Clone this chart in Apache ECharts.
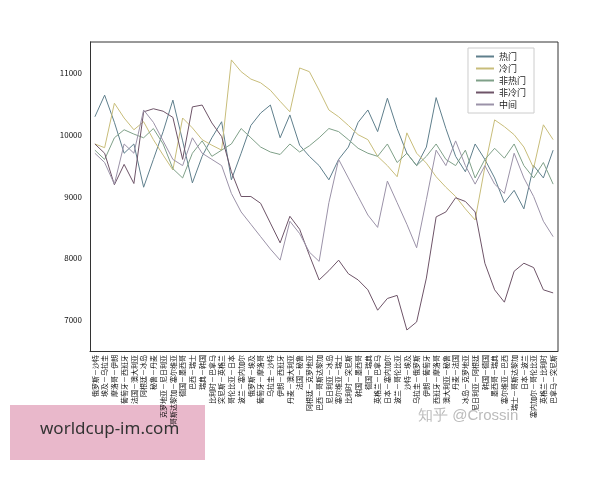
<!DOCTYPE html>
<html>
<head>
<meta charset="utf-8">
<script src="https://cdn.jsdelivr.net/npm/echarts@6/dist/echarts.min.js"></script>
<style>html,body{margin:0;padding:0;background:#fff}#chart{width:600px;height:480px}</style>
</head>
<body>
<div id="chart"></div>
<script>
const matches = ['俄罗斯－沙特','埃及－乌拉圭','摩洛哥－伊朗','葡萄牙－西班牙','法国－澳大利亚','阿根廷－冰岛','秘鲁－丹麦','克罗地亚－尼日利亚','哥斯达黎加－塞尔维亚','德国－墨西哥','巴西－瑞士','瑞典－韩国','比利时－巴拿马','突尼斯－英格兰','哥伦比亚－日本','波兰－塞内加尔','俄罗斯－埃及','葡萄牙－摩洛哥','乌拉圭－沙特','伊朗－西班牙','丹麦－澳大利亚','法国－秘鲁','阿根廷－克罗地亚','巴西－哥斯达黎加','尼日利亚－冰岛','塞尔维亚－瑞士','比利时－突尼斯','韩国－墨西哥','德国－瑞典','英格兰－巴拿马','日本－塞内加尔','波兰－哥伦比亚','沙特－埃及','乌拉圭－俄罗斯','伊朗－葡萄牙','西班牙－摩洛哥','澳大利亚－秘鲁','丹麦－法国','冰岛－克罗地亚','尼日利亚－阿根廷','韩国－德国','墨西哥－瑞典','塞尔维亚－巴西','瑞士－哥斯达黎加','日本－波兰','塞内加尔－哥伦比亚','英格兰－比利时','巴拿马－突尼斯'];

const hot = [10290,10640,10200,9700,9850,9150,9600,10050,10560,9900,9220,9650,9950,10210,9270,9700,10150,10350,10480,9950,10320,9830,9650,9500,9270,9600,9800,10200,10400,10050,10590,10100,9700,9500,9800,10600,10100,9650,9400,9850,9600,9300,8900,9100,8800,9500,9300,9750];
const cold = [9850,9790,10510,10270,10080,10210,9920,9670,9430,10270,10110,9920,9830,9750,11210,11020,10900,10840,10720,10540,10370,11080,11020,10720,10400,10290,10150,10000,9920,9650,9500,9320,10030,9700,9540,9320,9150,9000,8800,8620,9480,10240,10130,10000,9800,9460,10160,9920];
const notHot = [9750,9600,9950,10080,10010,9950,10100,9850,9450,9300,9700,9900,9650,9750,9850,10100,9950,9800,9720,9680,9850,9720,9820,9950,10100,10050,9920,9780,9700,9650,9850,9550,9700,9500,9650,9850,9600,9500,9750,9300,9600,9780,9620,9850,9500,9300,9550,9200];
const notCold = [9850,9700,9190,9520,9210,10370,10420,10380,10280,9600,10450,10480,10190,9970,9400,9000,9000,8890,8570,8250,8680,8470,8050,7650,7800,7970,7750,7650,7490,7160,7350,7400,6840,6970,7680,8670,8750,8980,8920,8750,7920,7490,7290,7790,7920,7850,7490,7440];
const middle = [9700,9550,9200,9850,9700,10400,10200,9900,9600,9500,9950,9700,9600,9500,9050,8750,8550,8350,8150,7970,8600,8400,8100,7950,8900,9600,9300,9000,8700,8500,9250,8900,8550,8170,8950,9750,9500,9900,9500,9200,9500,9200,9050,9700,9300,9000,8600,8350];

const names = ['热门','冷门','非热门','非冷门','中间'];
const colors = ['#5f7f8c','#c8bd7a','#7fa088','#6e5468','#9b92a8'];
const values = [hot, cold, notHot, notCold, middle];

const chart = echarts.init(document.getElementById('chart'));
chart.setOption({
  animation: false,
  textStyle: { fontFamily: 'Noto Sans CJK SC' },
  color: colors,
  grid: { left: 90, right: 42, top: 42, bottom: 129 },
  legend: {
    orient: 'vertical', right: 66, top: 48, itemWidth: 18, itemHeight: 2, itemGap: 3,
    icon: 'rect', textStyle: { fontSize: 9, color: '#222' },
    borderColor: '#ccc', borderWidth: 1, padding: [4, 8],
    data: names
  },
  xAxis: {
    type: 'category', data: matches, boundaryGap: true,
    axisLine: { lineStyle: { color: '#333' } },
    axisTick: { alignWithLabel: true, length: 3, lineStyle: { color: '#333' } },
    axisLabel: { rotate: 90, interval: 0, fontSize: 7, color: '#111', margin: 4 },
    splitLine: { show: false }
  },
  yAxis: {
    type: 'value', min: 6500, max: 11500, interval: 500,
    axisLine: { show: true, lineStyle: { color: '#333' } },
    axisTick: { show: false },
    axisLabel: { fontSize: 8, color: '#111', formatter: v => v % 1000 === 0 ? v : '' },
    splitLine: { show: false }
  },
  series: names.map((n, i) => ({
    name: n, type: 'line', data: values[i], symbol: 'none',
    lineStyle: { width: 1, color: colors[i] }
  })),
  graphic: [
    { type: 'line', shape: { x1: 558, y1: 42, x2: 558, y2: 351 }, style: { stroke: '#333' } },
    { type: 'line', shape: { x1: 90, y1: 42, x2: 558, y2: 42 }, style: { stroke: '#333' } },
    { type: 'text', left: 418, top: 408, style: { text: '知乎 @Crossin', fontSize: 15, fill: '#bbb' } },
    { type: 'rect', shape: { x: 10, y: 405, width: 195, height: 55 }, style: { fill: '#e9b8cb' } },
    { type: 'text', left: 40, top: 421, style: { text: 'worldcup-im.com', fontSize: 17, fill: '#333', fontFamily: 'Noto Sans' } }
  ]
});
</script>
</body>
</html>
